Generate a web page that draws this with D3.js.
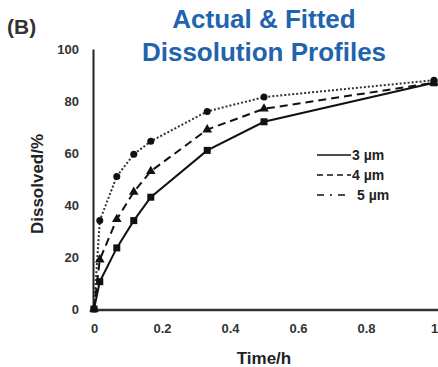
<!DOCTYPE html>
<html>
<head>
<meta charset="utf-8">
<script src="https://cdn.jsdelivr.net/npm/d3@7"></script>
<style>
  html, body { margin: 0; padding: 0; background: #fff; }
  svg { display: block; font-family: "Liberation Sans", Arial, sans-serif; }
  .axis text { font-size: 13px; font-weight: bold; fill: #333; }
</style>
</head>
<body>
<div id="chart"></div>
<script>
// sampling times (h) and % dissolved for each particle size
const timeH = [0, 0.017, 0.067, 0.117, 0.167, 0.333, 0.5, 1];
const size3um = [0, 10.5, 23.5, 34, 43, 61, 72, 87];
const size4um = [0, 19, 34.5, 45, 53, 69, 77, 87];
const size5um = [0, 34, 51, 59.5, 64.5, 76, 81.5, 88];
const seriesNames = ["3 µm", "4 µm", "5 µm"];
const xTicks = [0, 0.2, 0.4, 0.6, 0.8, 1];
const yTicks = [0, 20, 40, 60, 80, 100];

const width = 438, height = 367;

const svg = d3.select("#chart").append("svg")
  .attr("width", width)
  .attr("height", height);

const x = d3.scaleLinear().domain([0, 1]).range([94, 434]);
const y = d3.scaleLinear().domain([0, 100]).range([309, 49]);

// titles
svg.append("text").attr("x", 7).attr("y", 34)
  .attr("font-size", 21).attr("font-weight", "bold").attr("fill", "#333")
  .text("(B)");

const title = svg.append("text").attr("text-anchor", "middle")
  .attr("font-size", 26).attr("font-weight", "bold").attr("fill", "#1f64ad");
title.append("tspan").attr("x", 264).attr("y", 28).text("Actual & Fitted");
title.append("tspan").attr("x", 264).attr("y", 61).text("Dissolution Profiles");

// axes
const yAxis = svg.append("g").attr("class", "axis")
  .attr("transform", `translate(${x(0) - 1},0)`)
  .call(d3.axisLeft(y).tickValues(yTicks).tickSize(0).tickPadding(14));
yAxis.select(".domain").attr("stroke", "#222").attr("stroke-width", 2);

const xAxis = svg.append("g").attr("class", "axis")
  .attr("transform", `translate(0,${y(0) + 1})`)
  .call(d3.axisBottom(x).tickValues(xTicks).tickFormat(d => String(d)).tickSize(0).tickPadding(14));
xAxis.select(".domain").attr("stroke", "#333").attr("stroke-width", 2.5)
  .attr("d", `M${x(0) - 2},0H${width}`);

svg.append("text").attr("x", 264).attr("y", 364).attr("text-anchor", "middle")
  .attr("font-size", 17).attr("font-weight", "bold").attr("fill", "#222")
  .text("Time/h");

svg.append("text")
  .attr("transform", "translate(43,184) rotate(-90)")
  .attr("text-anchor", "middle")
  .attr("font-size", 17).attr("font-weight", "bold").attr("fill", "#222")
  .text("Dissolved/%");

// series
const line = d3.line().x((d, i) => x(timeH[i])).y(d => y(d));

function drawLine(values, dash, w, color) {
  svg.append("path").datum(values)
    .attr("d", line)
    .attr("fill", "none")
    .attr("stroke", color)
    .attr("stroke-width", w)
    .attr("stroke-dasharray", dash);
}

drawLine(size5um, "2,2", 2, "#333");
drawLine(size4um, "8,5", 2, "#111");
drawLine(size3um, null, 2, "#111");

svg.append("g").selectAll("circle").data(size5um).join("circle")
  .attr("cx", (d, i) => x(timeH[i])).attr("cy", d => y(d))
  .attr("r", 3.5).attr("fill", "#111");

svg.append("g").selectAll("path").data(size4um).join("path")
  .attr("transform", (d, i) => `translate(${x(timeH[i])},${y(d)})`)
  .attr("d", d3.symbol(d3.symbolTriangle, 40))
  .attr("fill", "#111");

svg.append("g").selectAll("rect").data(size3um).join("rect")
  .attr("x", (d, i) => x(timeH[i]) - 3.5).attr("y", d => y(d) - 3.5)
  .attr("width", 7).attr("height", 7).attr("fill", "#111");

// legend
const legendDash = [null, "6,4", "7,6,2,6"];
const legend = svg.append("g");
seriesNames.forEach((name, i) => {
  const ly = 155 + i * 20;
  legend.append("line")
    .attr("x1", 317).attr("x2", 351).attr("y1", ly).attr("y2", ly)
    .attr("stroke", "#111").attr("stroke-width", 1.5)
    .attr("stroke-dasharray", legendDash[i]);
  legend.append("text")
    .attr("x", i === 2 ? 357 : 352).attr("y", ly + 5)
    .attr("font-size", 14).attr("font-weight", "bold").attr("fill", "#222")
    .text(name);
});
</script>
</body>
</html>
